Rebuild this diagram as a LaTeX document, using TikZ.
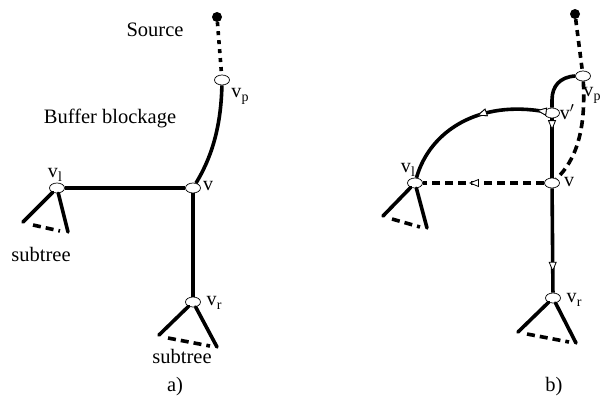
\documentclass[tikz,border=0pt]{standalone}
\usepackage{fontspec}
\setmainfont{Liberation Serif}
\usetikzlibrary{shapes.geometric,arrows.meta,decorations.markings,calc}
\newcommand{\vsub}[1]{v\kern0.3pt\raisebox{-0.45ex}{\fontsize{14}{14}\selectfont #1}}
\begin{document}
\begin{tikzpicture}[x=1pt,y=-1pt,
  vert/.style={ellipse, draw, fill=white, minimum width=15pt, minimum height=10pt, inner sep=0pt, line width=0.7pt},
  src/.style={circle, fill=black, inner sep=0pt, minimum size=10pt},
  thickline/.style={line width=3.6pt},
  dashline/.style={line width=3.6pt, dash pattern=on 8pt off 5pt},
  dotline/.style={line width=3.6pt, dash pattern=on 4pt off 5pt},
  txt/.style={font=\fontsize{20.5}{22}\selectfont, inner sep=0pt},
  lbl/.style={font=\fontsize{20}{22}\selectfont, inner sep=0pt},
  arr/.style={postaction={decorate}, decoration={markings, mark=at position #1 with {\arrow{Triangle[fill=white,length=10pt,width=8pt,line width=0.8pt]}}}}
]
\useasboundingbox (0,0) rectangle (601,404);

% ---------- a) ----------
\node[src] (srcA) at (217,17) {};
\node[vert] (vpA) at (222,80) {};
\node[vert] (vA) at (193,188) {};
\node[vert] (vlA) at (57,188) {};
\node[vert] (vrA) at (193,302) {};
\coordinate (la1) at (23,222);
\coordinate (la2) at (68,232);
\coordinate (ra1) at (159,335);
\coordinate (ra2) at (217,347);
\coordinate (da1) at (33,225);
\coordinate (da2) at (60,231);
\coordinate (dr1) at (168,338);
\coordinate (dr2) at (210,346);

\draw[dotline] (srcA) -- (vpA);
\draw[thickline] (vpA) .. controls (221,130) and (210,160) .. (vA);
\draw[thickline] (vlA) -- (vA);
\draw[thickline] (vA) -- (vrA);
\draw[thickline, line cap=round] (vlA) -- (la1);
\draw[thickline, line cap=round] (vlA) -- (la2);
\draw[dashline] (da1) -- (da2);
\draw[thickline, line cap=round] (vrA) -- (ra1);
\draw[thickline, line cap=round] (vrA) -- (ra2);
\draw[dashline] (dr1) -- (dr2);

\node[txt] (source) at (155,30) {Source};
\node[txt] (buffer) at (110,118) {Buffer blockage};
\node[lbl] (lvpA) at (240,96) {\vsub{p}};
\node[lbl] (lvA) at (208,186) {v};
\node[lbl] (lvlA) at (55,175) {\vsub{l}};
\node[lbl] (lvrA) at (214,303) {\vsub{r}};
\node[txt] (subA1) at (41,254) {subtree};
\node[txt] (subA2) at (182,356) {subtree};
\node[txt] (capA) at (175,387) {a)};

% ---------- b) ----------
\node[src] (srcB) at (575,14) {};
\node[vert] (vpB) at (583,76) {};
\node[vert] (vprime) at (552,113) {};
\node[vert] (vB) at (552,183) {};
\node[vert] (vlB) at (415,183) {};
\node[vert] (vrB) at (553,298) {};
\coordinate (lb1) at (383,216);
\coordinate (lb2) at (427,228);
\coordinate (rb1) at (518,332);
\coordinate (rb2) at (576,343);
\coordinate (db1) at (392,219);
\coordinate (db2) at (420,227);
\coordinate (eb1) at (527,334);
\coordinate (eb2) at (569,342);
\coordinate (bend) at (552,100);

\draw[dashline, dash pattern=on 6pt off 5pt] (srcB) -- (vpB);
\draw[dashline] (vpB) .. controls (586,130) and (576,160) .. (vB);
\draw[thickline] (vpB.west) .. controls (560,77) and (552,86) .. (bend) -- (vprime);
\draw[thickline, arr=0.05, arr=0.43] (vprime) .. controls (480,100) and (430,130) .. (vlB);
\draw[thickline, arr=0.2] (vprime) -- (vB);
\draw[thickline, arr=0.8] (vB) -- (vrB);
\draw[dashline, arr=0.62] (vB) -- (vlB);
\draw[thickline, line cap=round] (vlB) -- (lb1);
\draw[thickline, line cap=round] (vlB) -- (lb2);
\draw[dashline] (db1) -- (db2);
\draw[thickline, line cap=round] (vrB) -- (rb1);
\draw[thickline, line cap=round] (vrB) -- (rb2);
\draw[dashline] (eb1) -- (eb2);

\node[lbl] (lvpB) at (592,95) {\vsub{p}};
\node[lbl] (lvprime) at (567,112) {v$'$};
\node[lbl] (lvB) at (569,182) {v};
\node[lbl] (lvlB) at (408,170) {\vsub{l}};
\node[lbl] (lvrB) at (574,300) {\vsub{r}};
\node[txt] (capB) at (554,387) {b)};
\end{tikzpicture}
\end{document}
